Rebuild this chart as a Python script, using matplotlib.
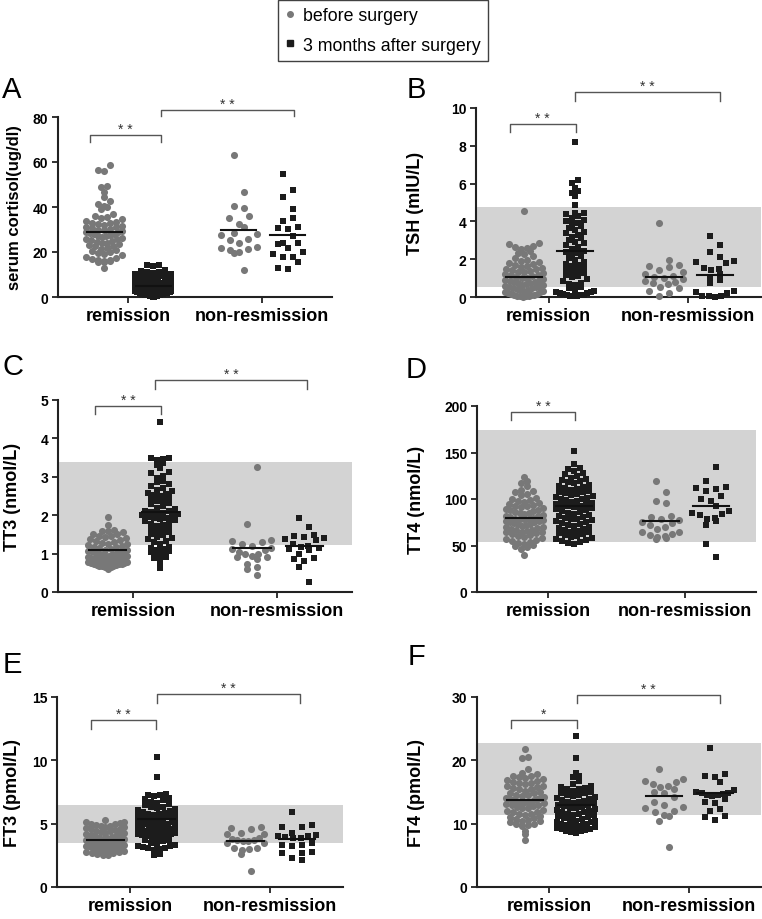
import numpy as np
import matplotlib
matplotlib.use("Agg")
import matplotlib.pyplot as plt
from matplotlib.lines import Line2D

plt.rcParams['font.family'] = ['Liberation Sans', 'DejaVu Sans']

# ---- data ----
groups = ["remission", "non-resmission"]

# A: serum cortisol
A_rem_pre = [58.5, 56.5, 56.2, 49.2, 48.8, 46.5, 44.6, 42.5, 41.2, 40.3, 39.8, 38.9,
             37.0, 36.0, 35.5, 35.0, 34.5, 34.0, 33.5, 33.0, 32.5, 32.0, 31.5, 31.0,
             30.5, 30.0, 29.6, 29.2, 28.8, 28.4, 28.0, 27.6, 27.2, 26.8, 26.4, 26.0,
             25.5, 25.0, 24.5, 24.0, 23.5, 23.0, 22.5, 22.0, 21.5, 21.0, 20.5, 20.0,
             19.5, 19.0, 18.5, 18.0, 17.5, 17.0, 16.6, 16.3, 16.0, 15.8, 15.6, 15.4,
             27.0, 28.2, 29.0, 30.2, 31.2, 25.8, 24.2, 22.8, 32.8, 13.0]
A_rem_post = [14.3, 14.1, 13.9, 12.0, 11.6, 11.3, 11.0, 10.7, 10.4, 10.1, 9.8, 9.5,
              9.2, 8.9, 8.6, 8.3, 8.0, 7.7, 7.4, 7.2, 7.0, 6.8, 6.6, 6.4, 6.2, 6.0,
              5.8, 5.6, 5.4, 5.2, 5.0, 4.8, 4.6, 4.4, 4.2, 4.0, 3.8, 3.6, 3.4, 3.2,
              3.0, 2.9, 2.8, 2.7, 2.6, 2.5, 2.4, 2.3, 2.2, 2.1, 2.0, 1.9, 1.8, 1.7,
              1.6, 1.5, 1.4, 1.3, 1.2, 1.1, 1.0, 0.9, 0.8, 0.7, 0.6, 0.5, 0.4, 0.3,
              0.2, 0.1]
A_non_pre = [63.2, 46.5, 40.3, 39.4, 35.8, 35.0, 32.5, 31.2, 28.3, 27.8, 27.6, 26.0,
             25.4, 24.2, 22.2, 21.5, 21.0, 20.0, 19.6, 22.0, 11.8]
A_non_post = [54.6, 47.6, 44.5, 38.9, 35.2, 34.0, 31.3, 30.6, 30.2, 27.2, 24.0, 23.8,
              23.5, 22.0, 19.8, 19.2, 18.0, 17.6, 15.6, 13.0, 12.4]
A_means = [29.0, 5.0, 30.0, 27.7]

# B: TSH
B_rem_pre = [4.55, 2.85, 2.78, 2.72, 2.66, 2.6, 2.55, 2.45, 2.35, 2.25, 2.15, 2.05,
             1.98, 1.92, 1.86, 1.8, 1.75, 1.7, 1.65, 1.6, 1.55, 1.5, 1.46, 1.42,
             1.38, 1.34, 1.3, 1.26, 1.22, 1.18, 1.14, 1.1, 1.06, 1.02, 0.98, 0.94,
             0.9, 0.87, 0.84, 0.81, 0.78, 0.75, 0.72, 0.69, 0.66, 0.63, 0.6, 0.57,
             0.54, 0.51, 0.48, 0.45, 0.42, 0.39, 0.36, 0.33, 0.3, 0.27, 0.24, 0.21,
             0.18, 0.15, 0.12, 0.1, 0.08, 0.06, 0.05, 0.04, 0.03, 0.02]
B_rem_post = [8.22, 6.2, 6.05, 5.78, 5.62, 5.52, 5.32, 4.85, 4.45, 4.42, 4.38, 4.3,
              4.2, 4.1, 4.0, 3.9, 3.85, 3.75, 3.65, 3.55, 3.45, 3.38, 3.3, 3.2,
              3.1, 3.0, 2.92, 2.85, 2.75, 2.65, 2.55, 2.45, 2.4, 2.35, 2.25, 2.15,
              2.05, 1.95, 1.85, 1.75, 1.7, 1.65, 1.55, 1.5, 1.45, 1.35, 1.25, 1.15,
              1.1, 1.05, 0.95, 0.85, 0.75, 0.7, 0.65, 0.55, 0.45, 0.35, 0.3, 0.28,
              0.25, 0.22, 0.2, 0.15, 0.12, 0.1, 0.08, 0.06, 0.05, 0.04]
B_non_pre = [3.9, 1.95, 1.7, 1.65, 1.6, 1.45, 1.3, 1.2, 1.1, 1.05, 1.0, 0.95, 0.85,
             0.8, 0.75, 0.7, 0.55, 0.45, 0.3, 0.2, 0.05]
B_non_post = [3.25, 2.75, 2.4, 2.1, 1.9, 1.85, 1.8, 1.55, 1.5, 1.45, 1.2, 1.0, 0.9,
              0.75, 0.3, 0.25, 0.2, 0.05, 0.05, 0.05, 0.02]
B_means = [1.06, 2.43, 1.06, 1.17]
B_range = [0.53, 4.76]

# C: TT3
C_rem_pre = [1.95, 1.75, 1.62, 1.6, 1.58, 1.55, 1.52, 1.5, 1.47, 1.45, 1.42, 1.4,
             1.38, 1.35, 1.33, 1.3, 1.28, 1.26, 1.24, 1.22, 1.2, 1.18, 1.16, 1.14,
             1.12, 1.1, 1.09, 1.08, 1.07, 1.06, 1.05, 1.04, 1.02, 1.0, 0.99, 0.98,
             0.97, 0.96, 0.95, 0.94, 0.93, 0.92, 0.9, 0.89, 0.88, 0.87, 0.86, 0.85,
             0.84, 0.83, 0.82, 0.81, 0.8, 0.79, 0.78, 0.77, 0.76, 0.75, 0.74, 0.73,
             0.72, 0.71, 0.7, 0.69, 0.68, 0.67, 0.66, 0.65, 0.63, 0.61]
C_rem_post = [4.42, 3.5, 3.48, 3.46, 3.44, 3.36, 3.3, 3.24, 3.12, 3.1, 3.02, 2.98,
              2.88, 2.86, 2.8, 2.75, 2.7, 2.66, 2.62, 2.58, 2.55, 2.52, 2.5, 2.47,
              2.44, 2.4, 2.36, 2.32, 2.28, 2.24, 2.2, 2.16, 2.12, 2.1, 2.08, 2.06,
              2.04, 2.02, 2.0, 1.98, 1.96, 1.94, 1.92, 1.9, 1.87, 1.84, 1.81, 1.78,
              1.75, 1.72, 1.68, 1.64, 1.6, 1.57, 1.55, 1.52, 1.48, 1.44, 1.4, 1.37,
              1.34, 1.3, 1.25, 1.18, 1.15, 1.12, 1.1, 1.08, 1.05, 1.02, 0.95, 0.9,
              0.88, 0.85, 0.72, 0.62]
C_non_pre = [3.26, 1.76, 1.35, 1.32, 1.3, 1.25, 1.2, 1.15, 1.12, 1.1, 1.05, 1.0,
             0.98, 0.95, 0.92, 0.9, 0.85, 0.72, 0.65, 0.6, 0.43]
C_non_post = [1.93, 1.7, 1.48, 1.45, 1.42, 1.4, 1.38, 1.35, 1.25, 1.2, 1.18, 1.15,
              1.12, 1.1, 0.98, 0.88, 0.85, 0.82, 0.66, 0.27]
C_means = [1.09, 2.08, 1.14, 1.19]
C_range = [1.22, 3.39]

# D: TT4
D_rem_pre = [124, 119, 117, 114, 110, 109, 108, 105, 104, 101, 100, 99, 98, 97, 96,
             95, 94, 93, 92, 91, 90, 89, 88, 87, 86, 85, 84, 83, 82, 81, 80, 79, 78,
             77, 76, 75, 74, 73, 72, 71, 70, 69, 68, 67, 66, 65, 64, 63, 62, 61, 60,
             59, 58, 57, 56, 55, 54, 53, 52, 51, 50, 48, 46, 40, 88, 85, 82, 79, 76,
             73, 70, 67, 64, 78, 75]
D_rem_post = [152, 138, 133, 132, 130, 128, 127, 125, 123, 121, 120, 119, 118, 117,
              115, 114, 113, 112, 111, 110, 109, 108, 107, 106, 105, 104, 103, 102,
              101, 100, 99, 98, 97, 96, 95, 94, 93, 92, 91, 90, 89, 88, 87, 86, 85,
              84, 83, 82, 81, 80, 79, 78, 77, 76, 75, 74, 73, 72, 71, 70, 69, 68, 67,
              66, 65, 64, 63, 62, 61, 60, 59, 58, 57, 56, 55, 54, 53, 52, 100, 95]
D_non_pre = [119, 108, 98, 96, 82, 81, 79, 77, 75, 74, 72, 70, 68, 65, 64, 62, 61,
             60, 59, 58, 57]
D_non_post = [134, 119, 113, 112, 111, 109, 103, 100, 98, 93, 87, 85, 84, 83, 80, 78,
              76, 72, 52, 38]
D_means = [80, 93, 76.5, 92]
D_range = [54, 174]

# E: FT3
E_rem_pre = [5.3, 5.15, 5.1, 5.05, 5.0, 4.95, 4.9, 4.85, 4.8, 4.75, 4.7, 4.65, 4.6,
             4.55, 4.5, 4.45, 4.4, 4.35, 4.3, 4.25, 4.2, 4.15, 4.1, 4.05, 4.0, 3.95,
             3.9, 3.85, 3.8, 3.78, 3.75, 3.72, 3.7, 3.68, 3.65, 3.62, 3.6, 3.57, 3.55,
             3.52, 3.5, 3.47, 3.45, 3.42, 3.4, 3.37, 3.35, 3.32, 3.3, 3.27, 3.25, 3.22,
             3.2, 3.17, 3.15, 3.12, 3.1, 3.07, 3.05, 3.02, 3.0, 2.97, 2.95, 2.92, 2.9,
             2.87, 2.85, 2.82, 2.8, 2.75, 2.7, 2.65, 2.6, 2.55, 2.5]
E_rem_post = [10.25, 8.65, 7.35, 7.3, 7.25, 7.15, 7.05, 6.95, 6.85, 6.75, 6.65, 6.55,
              6.45, 6.35, 6.25, 6.15, 6.05, 5.95, 5.85, 5.8, 5.75, 5.7, 5.65, 5.6,
              5.55, 5.5, 5.45, 5.4, 5.35, 5.3, 5.25, 5.2, 5.15, 5.1, 5.05, 5.0, 4.95,
              4.9, 4.85, 4.8, 4.75, 4.7, 4.65, 4.6, 4.55, 4.5, 4.45, 4.4, 4.35, 4.3,
              4.25, 4.2, 4.15, 4.1, 4.05, 4.0, 3.95, 3.85, 3.8, 3.75, 3.7, 3.6, 3.5,
              3.4, 3.3, 3.25, 3.2, 3.15, 3.1, 3.05, 3.0, 2.95, 2.6, 2.5, 4.9, 5.6,
              6.0, 6.3]
E_non_pre = [4.7, 4.65, 4.6, 4.3, 4.2, 4.15, 3.9, 3.8, 3.75, 3.7, 3.6, 3.6, 3.5, 3.45,
             3.1, 3.05, 3.0, 2.95, 2.6, 1.25]
E_non_post = [5.9, 4.9, 4.75, 4.7, 4.3, 4.1, 4.05, 4.0, 3.95, 3.9, 3.85, 3.5, 3.35,
              3.3, 3.2, 2.8, 2.7, 2.65, 2.3, 2.1]
E_means = [3.7, 5.35, 3.65, 3.8]
E_range = [3.47, 6.47]

# F: FT4
F_rem_pre = [21.8, 20.6, 20.4, 18.6, 18.0, 17.8, 17.6, 17.4, 17.2, 17.0, 16.8, 16.6,
             16.4, 16.2, 16.0, 15.8, 15.6, 15.4, 15.2, 15.0, 14.8, 14.6, 14.4, 14.2,
             14.0, 13.9, 13.8, 13.7, 13.6, 13.5, 13.4, 13.3, 13.2, 13.0, 12.8, 12.6,
             12.4, 12.2, 12.0, 11.8, 11.6, 11.4, 11.2, 11.0, 10.8, 10.6, 10.4, 10.2,
             10.0, 9.8, 9.9, 9.6, 8.8, 8.3, 7.5, 16.5, 15.5, 14.5, 13.5, 12.5, 11.5,
             10.5, 17.5, 16.9, 15.9, 14.9, 13.9, 12.9, 11.9, 10.9, 14.1, 13.1]
F_rem_post = [23.9, 20.4, 18.0, 17.5, 17.3, 16.8, 16.2, 16.0, 15.8, 15.6, 15.4, 15.2,
              15.0, 14.8, 14.6, 14.4, 14.2, 14.0, 13.8, 13.6, 13.4, 13.2, 13.0, 12.8,
              12.6, 12.4, 12.2, 12.0, 11.8, 11.6, 11.4, 11.2, 11.0, 10.8, 10.6, 10.4,
              10.2, 10.0, 9.9, 9.8, 9.7, 9.6, 9.5, 9.4, 9.3, 9.2, 9.1, 9.0, 8.9, 8.8,
              8.7, 8.6, 8.5, 15.5, 14.5, 13.5, 12.5, 11.5, 10.5, 9.75, 14.9, 13.9,
              12.9, 11.9, 10.9, 9.85, 13.3, 12.3, 11.3, 10.3]
F_non_pre = [18.6, 17.0, 16.8, 16.6, 16.2, 16.0, 15.8, 15.4, 15.0, 14.8, 14.2, 13.4,
             13.0, 12.6, 12.5, 12.0, 11.8, 11.4, 11.2, 10.5, 6.3]
F_non_post = [21.9, 17.9, 17.6, 17.4, 16.6, 15.3, 15.0, 14.9, 14.8, 14.7, 14.6, 14.5,
              14.3, 13.9, 13.5, 13.3, 12.3, 12.0, 11.2, 11.0, 10.6]
F_means = [13.8, 13.0, 14.3, 14.8]
F_range = [11.4, 22.7]

# significance brackets: (x_left, x_right, y_top, y_leg_end, label)
A_sig = [(0.43, 1.50, 72.0, 68.9, "* *"), (1.50, 3.47, 83.1, 80.4, "* *")]
B_sig = [(0.44, 1.39, 9.15, 8.73, "* *"), (1.38, 3.45, 10.85, 10.37, "* *")]
C_sig = [(0.47, 1.39, 4.84, 4.64, "* *"), (1.31, 3.42, 5.52, 5.29, "* *")]
D_sig = [(0.46, 1.39, 193.5, 185.0, "* *")]
E_sig = [(0.44, 1.37, 13.2, 12.5, "* *"), (1.39, 3.42, 15.2, 14.5, "* *")]
F_sig = [(0.45, 1.39, 26.4, 25.1, "*"), (1.39, 3.45, 30.3, 29.0, "* *")]

W, H = 762, 920
GREY = "#787878"
BLACK = "#1c1c1c"
BAND = "#d3d3d3"
XPOS = [0.65, 1.38, 2.65, 3.38]
XLIM = (-0.04, 4.04)

panels = [
    dict(letter="A", box=(58, 118, 274, 180), ylim=80, yticks=[0, 20, 40, 60, 80],
         ylabel="serum cortisol(ug/dl)", lab_size=12, lab_x=22, letter_xy=(2, 98),
         data=[A_rem_pre, A_rem_post, A_non_pre, A_non_post], means=A_means,
         band=None, sig=A_sig),
    dict(letter="B", box=(476, 109, 285, 189), ylim=10, yticks=[0, 2, 4, 6, 8, 10],
         ylabel="TSH (mIU/L)", lab_size=13, lab_x=424, letter_xy=(407, 98),
         data=[B_rem_pre, B_rem_post, B_non_pre, B_non_post], means=B_means,
         band=B_range, sig=B_sig),
    dict(letter="C", box=(58, 401, 294, 192), ylim=5, yticks=[0, 1, 2, 3, 4, 5],
         ylabel="TT3 (nmol/L)", lab_size=13, lab_x=21, letter_xy=(3, 375),
         data=[C_rem_pre, C_rem_post, C_non_pre, C_non_post], means=C_means,
         band=C_range, sig=C_sig),
    dict(letter="D", box=(477, 407, 279, 186), ylim=200, yticks=[0, 50, 100, 150, 200],
         ylabel="TT4 (nmol/L)", lab_size=13, lab_x=425, letter_xy=(406, 378),
         data=[D_rem_pre, D_rem_post, D_non_pre, D_non_post], means=D_means,
         band=D_range, sig=D_sig),
    dict(letter="E", box=(57, 698, 286, 190), ylim=15, yticks=[0, 5, 10, 15],
         ylabel="FT3 (pmol/L)", lab_size=13, lab_x=21, letter_xy=(3, 673),
         data=[E_rem_pre, E_rem_post, E_non_pre, E_non_post], means=E_means,
         band=E_range, sig=E_sig),
    dict(letter="F", box=(477, 698, 284, 190), ylim=30, yticks=[0, 10, 20, 30],
         ylabel="FT4 (pmol/L)", lab_size=13, lab_x=425, letter_xy=(408, 665),
         data=[F_rem_pre, F_rem_post, F_non_pre, F_non_post], means=F_means,
         band=F_range, sig=F_sig),
]


def swarm_x(vals, center, ppu_x, ppu_y, bin_px=6.0, step_px=6.0, half_width=0.27):
    # prism-like column scatter: bin by value, spread each row around the centre
    vals = np.asarray(vals, dtype=float)
    binh = bin_px / ppu_y
    bins = np.floor(vals / binh).astype(int)
    xs = np.zeros(len(vals))
    flip = 1
    for b in np.unique(bins):
        idx = np.where(bins == b)[0]
        idx = idx[np.argsort(vals[idx])]
        n = len(idx)
        step = step_px / ppu_x
        if n > 1:
            step = min(step, 2 * half_width / (n - 1))
        offs = (np.arange(n) - (n - 1) / 2) * step
        if n == 1 and len(vals) < 30:
            # lone points in small groups drift to alternating sides
            offs = np.array([flip * 0.5 * step])
            flip = -flip
        offs = offs[np.argsort(np.abs(offs), kind="stable")]
        xs[idx] = center + offs
    return xs


fig = plt.figure(figsize=(W / 100, H / 100), dpi=100)

for p in panels:
    left, top, w, h = p["box"]
    ax = fig.add_axes([left / W, 1 - (top + h) / H, w / W, h / H])
    ax.set_xlim(*XLIM)
    ax.set_ylim(0, p["ylim"])
    ppu_x = w / (XLIM[1] - XLIM[0])
    ppu_y = h / p["ylim"]

    if p["band"] is not None:
        ax.axhspan(p["band"][0], p["band"][1], color=BAND, lw=0, zorder=0)

    for i, vals in enumerate(p["data"]):
        pre = i % 2 == 0
        if len(vals) < 30:
            xs = swarm_x(vals, XPOS[i], ppu_x, ppu_y, bin_px=9.0, step_px=10.0)
        else:
            xs = swarm_x(vals, XPOS[i], ppu_x, ppu_y)
        ax.scatter(xs, vals, s=26 if pre else 24, marker="o" if pre else "s",
                   color=GREY if pre else BLACK, linewidths=0, zorder=3, clip_on=False)
        ax.plot([XPOS[i] - 0.26, XPOS[i] + 0.26], [p["means"][i]] * 2,
                color="#111111", lw=1.5, zorder=4)

    for x1, x2, yt, yb, lab in p["sig"]:
        ax.plot([x1, x1, x2, x2], [yb, yt, yt, yb], color="#555555", lw=1.0,
                clip_on=False, zorder=5)
        ax.annotate(lab, xy=((x1 + x2) / 2, yt), xytext=(0, 1.5),
                    textcoords="offset points", ha="center", va="baseline",
                    fontsize=10, color="#333333", annotation_clip=False)

    for side in ["top", "right"]:
        ax.spines[side].set_visible(False)
    for side in ["left", "bottom"]:
        ax.spines[side].set_linewidth(1.5)
        ax.spines[side].set_color("#222222")

    ax.set_xticks([1, 3])
    ax.set_xticklabels(groups, fontsize=13, fontweight="bold")
    ax.set_yticks(p["yticks"])
    ax.set_yticklabels([str(t) for t in p["yticks"]], fontsize=10, fontweight="bold")
    ax.tick_params(direction="out", length=4, width=1.3, color="#222222", pad=3)
    ax.set_ylabel(p["ylabel"], fontsize=p["lab_size"], fontweight="bold")
    ax.yaxis.set_label_coords((p["lab_x"] - left) / w, 0.5)

    lx, ly = p["letter_xy"]
    fig.text(lx / W, 1 - ly / H, p["letter"], fontsize=21, ha="left", va="baseline")

handles = [
    Line2D([], [], ls="", marker="o", markersize=4, color=GREY),
    Line2D([], [], ls="", marker="s", markersize=4, color=BLACK),
]
leg = fig.legend(handles, ["before surgery", "3 months after surgery"],
                 loc="upper left", bbox_to_anchor=(278 / W, 1 - 1 / H),
                 fontsize=12.8, frameon=True, fancybox=False, borderaxespad=0,
                 handlelength=0.5, handletextpad=0.5, borderpad=0.4,
                 labelspacing=0.7)
leg.get_frame().set_edgecolor("#111111")
leg.get_frame().set_linewidth(1.0)

fig.savefig("out.png", dpi=100)
